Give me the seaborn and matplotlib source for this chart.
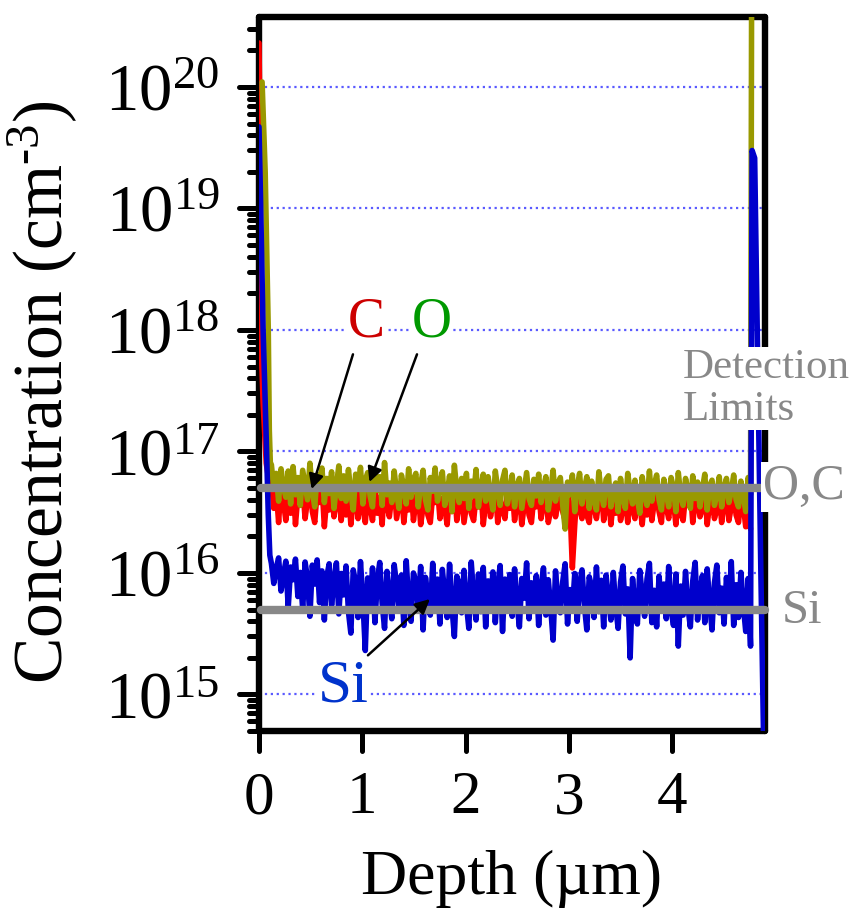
import numpy as np
import pandas as pd
import seaborn as sns
import matplotlib.pyplot as plt
from matplotlib.ticker import LogLocator, NullFormatter
from matplotlib.markers import MarkerStyle

# ---- data ----
# near-surface part: depth (um), concentration (cm^-3)
c_surf_depth = [0.0, 0.005, 0.01, 0.02, 0.04, 0.07, 0.10]
c_surf = [2.3e20, 1.0e20, 1.5e19, 8.0e17, 2.5e17, 8.0e16, 5.5e16]
o_surf_depth = [0.03, 0.06, 0.09, 0.10, 0.11]
o_surf = [1.1e20, 2.0e19, 1.0e18, 1.5e17, 8.0e16]
si_surf_depth = [0.0, 0.015, 0.04, 0.07, 0.09, 0.105]
si_surf = [4.7e19, 1.2e19, 1.0e18, 1.3e17, 3.0e16, 1.4e16]

# bulk part, 0.12 .. 4.76 um
c_bulk = [6.0, 3.4, 4.9, 2.6, 5.5, 3.9, 2.7, 4.6, 3.1, 5.8,
          2.5, 4.3, 3.6, 5.2, 2.8, 4.0, 6.1, 3.2, 2.6, 4.7,
          3.8, 5.4, 2.4, 4.1, 3.3, 5.0, 2.9, 3.7, 5.6, 2.7,
          4.4, 3.0, 5.1, 2.5, 3.9, 4.8, 2.8, 5.3, 3.4, 2.6,
          4.6, 3.5, 2.7, 5.0, 3.1, 4.2, 2.5, 5.7, 3.6, 2.9,
          4.3, 5.2, 2.8, 3.7, 4.9, 2.6, 4.0, 3.3, 5.4, 2.7,
          3.9, 4.7, 2.5, 3.5, 5.1, 3.0, 2.6, 4.4, 3.8, 5.0,
          2.8, 4.1, 3.4, 2.5, 4.8, 3.2, 5.3, 2.7, 3.9, 4.5,
          2.6, 3.6, 5.0, 3.1, 2.7, 4.3, 3.5, 4.9, 2.5, 3.8,
          4.6, 2.9, 3.7, 5.2, 2.6, 4.0, 3.3, 2.8, 4.7, 3.4,
          5.1, 2.7, 3.9, 4.4, 2.5, 3.6, 4.8, 3.0, 2.6, 4.2,
          3.5, 5.0, 2.8, 3.8, 4.5, 2.6, 3.3, 4.9, 2.9, 3.7,
          4.1, 3.2, 2.7, 4.6, 3.6, 1.1, 2.5, 5.0, 3.4, 2.8,
          4.3, 3.0, 2.6, 4.7, 3.5, 2.8, 4.0, 5.2, 2.7, 3.6,
          4.4, 2.5, 3.9, 3.1, 4.8, 2.7, 3.4, 4.2, 2.6, 5.0,
          3.3, 2.8, 4.5, 3.7, 2.5, 4.1, 3.0, 4.9, 2.7, 3.8,
          4.6, 3.2, 2.6, 5.1, 3.5, 2.8, 4.3, 3.9, 2.5, 4.7,
          3.1, 2.7, 4.4, 3.6, 5.0, 2.6, 3.8, 4.2, 2.9, 3.4,
          4.8, 2.5, 3.7, 4.1, 2.8, 3.3, 4.6, 2.6, 3.9, 4.3,
          2.7, 3.5, 4.9, 3.0, 2.6, 4.2, 3.6, 2.4, 3.1, 2.3]   # x 1e16
o_bulk = [7.8, 4.9, 6.6, 3.9, 7.2, 5.1, 4.2, 6.9, 3.7, 7.5,
          4.4, 6.1, 3.6, 7.0, 5.3, 4.0, 8.0, 4.7, 3.5, 6.4,
          5.6, 7.3, 3.8, 6.0, 4.5, 6.8, 3.4, 5.2, 7.6, 4.1,
          6.3, 3.9, 7.1, 4.6, 3.3, 6.5, 5.0, 7.4, 3.7, 5.8,
          6.7, 4.3, 3.5, 7.0, 4.8, 6.2, 3.6, 8.1, 4.4, 5.5,
          3.8, 6.9, 4.6, 3.4, 6.4, 5.1, 3.7, 7.2, 4.2, 5.9,
          6.6, 3.5, 5.3, 7.0, 4.0, 3.3, 6.1, 4.7, 7.3, 3.9,
          5.4, 6.8, 3.6, 4.5, 6.3, 3.2, 7.7, 4.8, 3.8, 6.0,
          4.1, 6.6, 3.4, 5.7, 4.3, 7.1, 3.5, 5.0, 6.5, 3.9,
          6.2, 4.4, 3.3, 6.9, 4.9, 3.6, 5.8, 7.0, 3.7, 4.6,
          6.4, 3.5, 5.2, 6.0, 3.4, 4.8, 6.7, 4.1, 3.6, 5.9,
          4.3, 6.5, 3.8, 5.0, 6.2, 3.3, 4.6, 7.0, 3.9, 5.4,
          6.1, 3.6, 2.3, 5.6, 4.4, 6.4, 3.2, 5.1, 6.6, 3.7,
          4.9, 6.2, 3.4, 5.7, 4.0, 3.3, 6.8, 4.5, 3.6, 5.9,
          6.3, 3.5, 4.8, 5.5, 3.2, 6.0, 4.2, 3.4, 6.6, 4.7,
          3.7, 5.8, 4.1, 3.1, 6.2, 4.5, 3.6, 6.9, 3.9, 5.3,
          6.4, 4.0, 3.3, 5.9, 4.6, 3.5, 6.1, 5.0, 3.2, 6.7,
          4.3, 3.6, 6.0, 4.8, 3.4, 6.3, 4.1, 5.6, 3.5, 4.9,
          6.5, 3.3, 5.2, 5.8, 3.6, 4.4, 6.2, 3.5, 5.0, 6.0,
          3.8, 4.7, 6.4, 4.0, 3.5, 5.7, 4.3, 3.2, 6.1, 4.4]   # x 1e16
si_bulk = [12.0, 8.2, 10.9, 13.3, 7.1, 9.6, 12.5, 5.2, 11.2, 8.8,
           13.0, 6.4, 10.1, 5.0, 12.3, 9.0, 4.4, 11.6, 8.1, 12.8,
           5.7, 10.4, 4.1, 9.3, 11.9, 5.4, 8.5, 12.1, 4.6, 9.9,
           6.6, 11.4, 4.8, 3.2, 10.6, 8.3, 4.3, 12.4, 6.0, 2.3,
           9.1, 5.1, 11.0, 3.9, 8.7, 12.2, 5.6, 3.5, 10.3, 6.5,
           4.2, 11.7, 8.0, 4.9, 9.6, 3.7, 12.6, 5.8, 4.0, 10.0,
           8.4, 5.3, 11.3, 3.4, 9.2, 6.3, 4.5, 12.0, 5.0, 8.9,
           3.8, 10.7, 6.7, 4.3, 11.8, 5.2, 3.0, 9.4, 8.1, 4.7,
           10.5, 5.5, 3.5, 12.3, 6.4, 4.1, 9.8, 4.8, 11.1, 3.6,
           8.6, 5.1, 10.2, 3.9, 7.8, 11.5, 3.3, 8.9, 5.4, 9.7,
           4.4, 10.8, 5.7, 3.6, 9.0, 6.2, 12.1, 4.2, 8.3, 4.9,
           9.5, 3.7, 7.6, 11.0, 4.5, 8.8, 5.2, 2.8, 10.4, 6.0,
           4.7, 8.5, 11.9, 3.8, 7.3, 5.0, 9.9, 4.0, 8.0, 10.6,
           5.4, 3.4, 9.3, 7.7, 4.3, 11.2, 4.8, 8.7, 3.6, 9.6,
           6.1, 4.1, 10.1, 5.3, 3.5, 8.4, 11.4, 4.6, 7.4, 2.0,
           9.0, 5.1, 3.8, 10.5, 6.6, 4.4, 8.9, 12.0, 3.9, 7.2,
           3.6, 9.4, 5.5, 8.1, 4.2, 11.3, 5.0, 3.7, 9.8, 2.5,
           7.8, 4.5, 10.3, 5.2, 3.6, 8.6, 12.2, 4.1, 7.0, 9.5,
           3.9, 10.8, 5.7, 3.4, 8.3, 11.6, 4.7, 7.5, 3.8, 9.2,
           4.9, 12.4, 3.7, 8.0, 4.3, 10.1, 5.4, 3.3, 9.0, 2.5]  # x 1e15

# far end (substrate interface)
o_tail_depth = [4.77]
o_tail = [4.5e20]
si_tail_depth = [4.775, 4.80, 4.86, 4.885]
si_tail = [3.0e19, 2.6e19, 1.0e16, 5.0e14]

# detection limits
dl_oc = 5e16
dl_si = 5e15

bulk_depth = np.linspace(0.12, 4.76, len(c_bulk))

c_depth = np.concatenate([c_surf_depth, bulk_depth])
c_conc = np.concatenate([c_surf, np.array(c_bulk) * 1e16])
o_depth = np.concatenate([o_surf_depth, bulk_depth, o_tail_depth])
o_conc = np.concatenate([o_surf, np.array(o_bulk) * 1e16, o_tail])
si_depth = np.concatenate([si_surf_depth, bulk_depth, si_tail_depth])
si_conc = np.concatenate([si_surf, np.array(si_bulk) * 1e15, si_tail])

# ---- style ----
sns.set_style('ticks')
plt.rcParams['font.family'] = ['Liberation Serif', 'DejaVu Serif']
plt.rcParams['mathtext.fontset'] = 'custom'
plt.rcParams['mathtext.rm'] = 'Liberation Serif'
plt.rcParams['mathtext.it'] = 'Liberation Serif:italic'
for key in ['text.color', 'axes.labelcolor', 'xtick.color', 'ytick.color']:
    plt.rcParams[key] = 'black'

fig = plt.figure(figsize=(8.61, 9.17), dpi=100)
ax = fig.add_axes([0.3008, 0.2028, 0.5877, 0.7792])

# dotted decade lines
for k in range(15, 21):
    ax.axhline(10.0 ** k, color='#5a5aff', lw=1.6, ls=':', zorder=1)

lw = 4.0
sns.lineplot(x=c_depth, y=c_conc, ax=ax, color='#ff0000', lw=lw,
             estimator=None, sort=False, zorder=3)
sns.lineplot(x=o_depth, y=o_conc, ax=ax, color='#999900', lw=lw,
             estimator=None, sort=False, zorder=3.1)
sns.lineplot(x=si_depth, y=si_conc, ax=ax, color='#0000cc', lw=lw,
             estimator=None, sort=False, zorder=3.2)

# detection limit lines
ax.plot([0.02, 4.88], [dl_oc, dl_oc], color='#888888', lw=6,
        solid_capstyle='round', zorder=3.5, clip_on=False)
ax.plot([0.02, 4.9], [dl_si, dl_si], color='#888888', lw=6,
        solid_capstyle='round', zorder=3.5, clip_on=False)

ax.set_yscale('log')
ax.set_xlim(0, 4.9)
ax.set_ylim(5e14, 3.8e20)
ax.set_xticks([0, 1, 2, 3, 4])
ax.yaxis.set_major_locator(LogLocator(base=10, numticks=20))
ax.yaxis.set_minor_locator(LogLocator(base=10, subs=np.arange(2, 10), numticks=20))
ax.yaxis.set_minor_formatter(NullFormatter())

ax.set_xlabel('Depth (µm)', fontsize=46, labelpad=17)
ax.set_ylabel('Concentration (cm$^{\\text{-3}}$)', fontsize=50)
ax.yaxis.set_label_coords(-0.354, 0.474)

ax.tick_params(axis='both', which='major', direction='out', length=14.5,
               width=3.6, color='black')
ax.tick_params(axis='x', which='major', labelsize=44, pad=14)
ax.tick_params(axis='y', which='major', labelsize=48, pad=14)
ax.tick_params(axis='y', which='minor', direction='out', length=7,
               width=3.6, color='black')
for s in ax.spines.values():
    s.set_linewidth(4.6)
    s.set_color('black')
    s.set_capstyle('round')
for axis in (ax.xaxis, ax.yaxis):
    for tl in axis.get_ticklines() + axis.get_ticklines(minor=True):
        tl.set_marker(MarkerStyle(tl.get_marker(), capstyle='round'))

# labels and arrows
white = dict(facecolor='white', edgecolor='none', pad=1)
ax.text(0.86, 8.9e17, 'C', color='#cc0000', fontsize=40, ha='left',
        va='baseline', bbox=white, zorder=5)
ax.text(1.48, 8.9e17, 'O', color='#009900', fontsize=40, ha='left',
        va='baseline', bbox=white, zorder=5)
ax.text(0.57, 8.8e14, 'Si', color='#0033cc', fontsize=44, ha='left',
        va='baseline', bbox=white, zorder=5)

arrow = dict(arrowstyle='-|>', color='black', lw=1.8, mutation_scale=22,
             shrinkA=0, shrinkB=0)
ax.annotate('', xy=(0.51, 4.9e16), xytext=(0.91, 6.3e17), arrowprops=arrow, zorder=6)
ax.annotate('', xy=(1.07, 5.6e16), xytext=(1.53, 6.3e17), arrowprops=arrow, zorder=6)
ax.annotate('', xy=(1.655, 6.1e15), xytext=(1.055, 2.1e15), arrowprops=arrow, zorder=6)

ax.text(4.10, 1.83e17, 'Detection\nLimits', color='#888888', fontsize=31,
        ha='left', va='baseline', linespacing=1.1, bbox=white,
        zorder=5, clip_on=False)
ax.text(4.88, 4.04e16, 'O,C', color='#888888', fontsize=36, ha='left',
        va='baseline', bbox=white, zorder=5, clip_on=False)
ax.text(5.06, 3.9e15, 'Si', color='#888888', fontsize=35, ha='left',
        va='baseline', zorder=5, clip_on=False)

plt.savefig('out.png', dpi=100)
